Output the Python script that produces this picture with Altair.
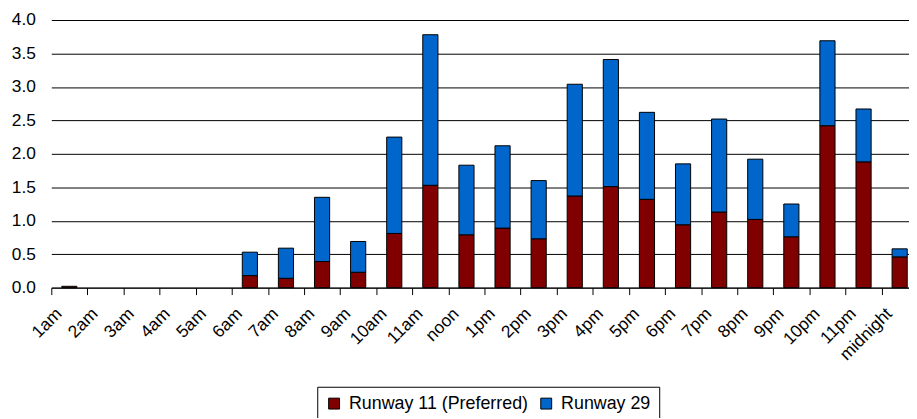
import altair as alt
import pandas as pd

hours = ["1am", "2am", "3am", "4am", "5am", "6am", "7am", "8am", "9am", "10am",
         "11am", "noon", "1pm", "2pm", "3pm", "4pm", "5pm", "6pm", "7pm", "8pm",
         "9pm", "10pm", "11pm", "midnight"]
runway11 = [0.02, 0, 0, 0, 0, 0.18, 0.14, 0.39, 0.23, 0.81,
            1.53, 0.79, 0.89, 0.73, 1.37, 1.51, 1.32, 0.94, 1.13, 1.02,
            0.76, 2.42, 1.88, 0.46]
runway29 = [0.0, 0, 0, 0, 0, 0.35, 0.45, 0.96, 0.46, 1.44,
            2.25, 1.04, 1.23, 0.87, 1.67, 1.90, 1.30, 0.91, 1.39, 0.90,
            0.49, 1.27, 0.79, 0.12]
series = ["Runway 11 (Preferred)", "Runway 29"]
colors = ["#800000", "#0066CC"]
y_ticks = [0, 0.5, 1.0, 1.5, 2.0, 2.5, 3.0, 3.5, 4.0]

rows = []
for i, h in enumerate(hours):
    rows.append({"hour": h, "series": series[0], "value": runway11[i], "ord": 0})
    rows.append({"hour": h, "series": series[1], "value": runway29[i], "ord": 1})
df = pd.DataFrame(rows)
df = df[df["value"] > 0]

STEP = 36.42
N = len(hours)
FONT = "Liberation Sans"

chart = alt.Chart(df).mark_bar(stroke="black", strokeWidth=1).encode(
    x=alt.X("hour:N", sort=hours,
            scale=alt.Scale(domain=hours, range=[0, STEP * N], paddingInner=0.58, paddingOuter=0.29),
            axis=alt.Axis(title=None, labelAngle=-45, labelAlign="right", labelBaseline="alphabetic",
                          bandPosition=0.5, tickOffset=-STEP / 2, labelOffset=11,
                          tickSize=7, tickColor="black", domainColor="black",
                          labelPadding=20, labelFontSize=17.5, labelFont=FONT, labelColor="black",
                          labelOverlap=False, labelFlush=False, labelBound=False, grid=False)),
    y=alt.Y("value:Q", stack="zero",
            scale=alt.Scale(domain=[0, 4], nice=False),
            axis=alt.Axis(title=None, values=y_ticks, format=".1f", ticks=False, domain=False,
                          labelPadding=16, labelFontSize=17.5, labelFont=FONT, labelColor="black",
                          grid=True, gridColor="black", gridWidth=1)),
    color=alt.Color("series:N", scale=alt.Scale(domain=series, range=colors),
                    legend=alt.Legend(title=None, orient="none", legendX=268.3, legendY=370,
                                      direction="horizontal", symbolType="square", symbolSize=121,
                                      symbolStrokeColor="black", symbolStrokeWidth=1,
                                      labelFontSize=18, labelFont=FONT, labelColor="black",
                                      labelLimit=400,
                                      strokeColor="black", padding=8, columnPadding=9,
                                      labelOffset=6, fillColor="white")),
    order=alt.Order("ord:Q"),
).properties(
    width=865.3, height=270,
    autosize=alt.AutoSizeParams(type="none"),
    padding={"left": 43.7, "top": 10.3, "right": 0, "bottom": 130},
    background="white",
).configure_view(stroke=None)

chart.save("out.html", embed_options={"renderer": "svg", "actions": False})
